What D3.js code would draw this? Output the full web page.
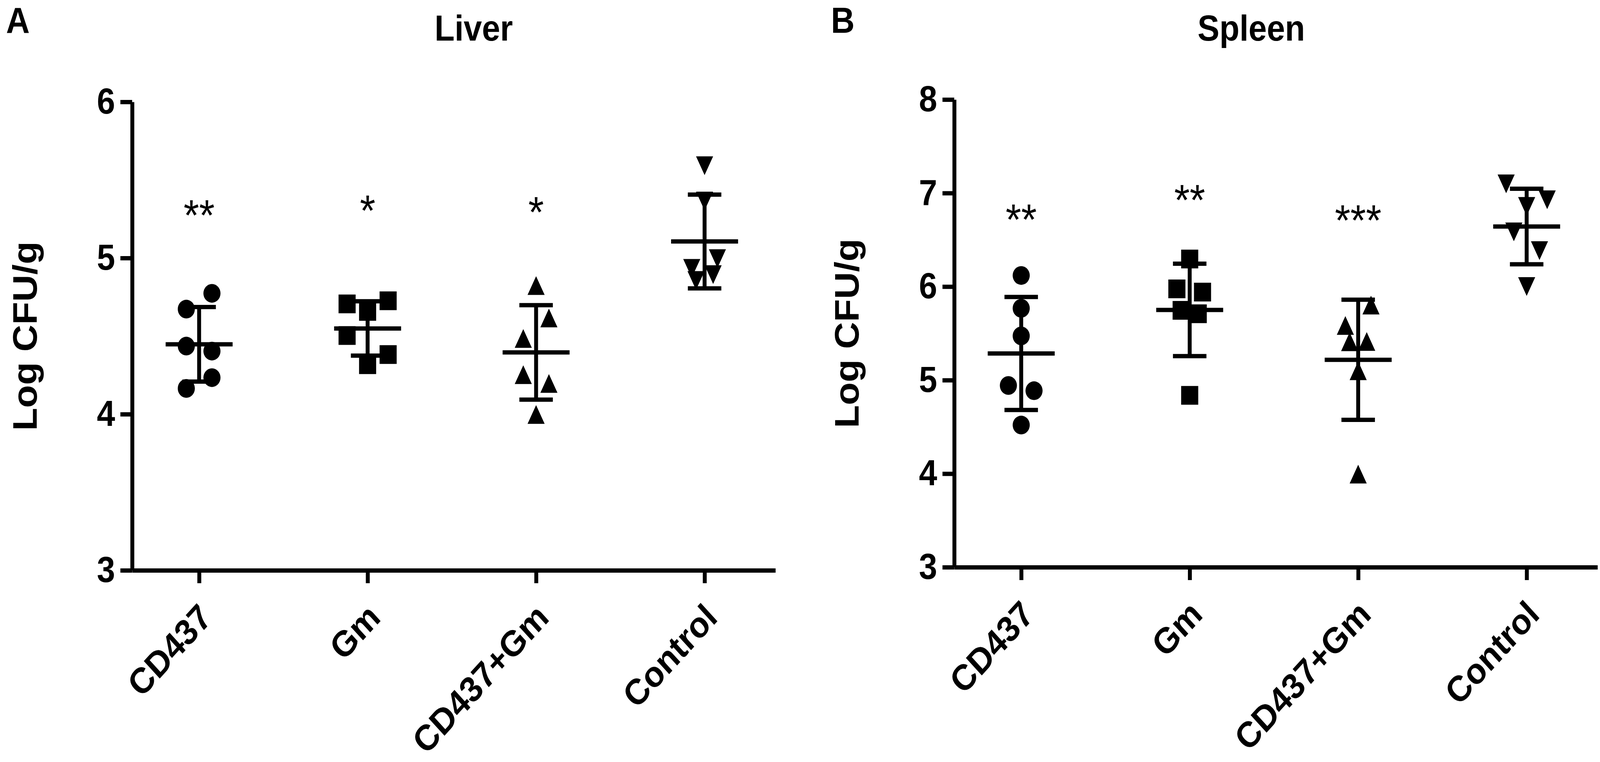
<!DOCTYPE html>
<html>
<head>
<meta charset="utf-8">
<script src="https://cdn.jsdelivr.net/npm/d3@7"></script>
<style>
  html, body { margin: 0; padding: 0; background: #fff; overflow: hidden; }
  svg { display: block; width: 100vw; height: 100vh; }
  svg text { font-family: 'Liberation Sans', Arial, sans-serif; font-weight: bold; fill: #000; }
</style>
</head>
<body>
<div id="chart-area"></div>
<script>
// groups and marker shapes
var groups = ['CD437', 'Gm', 'CD437+Gm', 'Control'];
var shapes = ['circle', 'square', 'triangle', 'triangleDown'];

// Log CFU/g per mouse
var liverCD437 = [4.673, 4.774, 4.436, 4.404, 4.165, 4.234];
var liverGm = [4.706, 4.726, 4.658, 4.504, 4.382, 4.317];
var liverCombo = [4.824, 4.485, 4.616, 4.253, 4.197, 3.998];
var liverControl = [5.591, 5.365, 4.934, 4.996, 4.856, 4.894];

var spleenCD437 = [6.119, 5.473, 5.768, 4.943, 4.887, 4.520];
var spleenGm = [6.295, 5.976, 5.941, 5.746, 5.710, 4.837];
var spleenCombo = [5.585, 5.803, 5.41, 5.413, 5.100, 3.995];
var spleenControl = [7.098, 6.928, 6.857, 6.585, 6.385, 6.001];

// axis ticks
var liverTicks = [3, 4, 5, 6];
var spleenTicks = [3, 4, 5, 6, 7, 8];

// significance marks and the level they sit at (data units)
var liverStars = ['**', '*', '*', ''];
var spleenStars = ['**', '**', '***', ''];
var liverStarLevels = [5.338, 5.367, 5.357, null];
var spleenStarLevels = [6.823, 7.029, 6.814, null];

var width = 4492;
var height = 1952;
var plotWidth = 1806;
var markerSize = 48;
var lineWidth = 11;
var fontSize = 92;
var starSize = 112;

// drawn in a 4492x1952 frame, stretched to fill the viewport
var svg = d3.select('#chart-area').append('svg')
    .attr('viewBox', '0 0 ' + width + ' ' + height)
    .attr('preserveAspectRatio', 'none');

var panels = [
    { letter: 'A', title: 'Liver', values: [liverCD437, liverGm, liverCombo, liverControl],
      ticks: liverTicks, stars: liverStars, starLevels: liverStarLevels,
      left: 371, top: 261, bottom: 1461, titleX: 1330, letterX: 17 },
    { letter: 'B', title: 'Spleen', values: [spleenCD437, spleenGm, spleenCombo, spleenControl],
      ticks: spleenTicks, stars: spleenStars, starLevels: spleenStarLevels,
      left: 2679, top: 255, bottom: 1453, titleX: 3513, letterX: 2333 }
];

// custom triangle symbols (bounding box centred)
var triUp = {
    draw: function (ctx, size) {
        var h = Math.sqrt(size) / 2;
        ctx.moveTo(0, -h); ctx.lineTo(h, h); ctx.lineTo(-h, h); ctx.closePath();
    }
};
var triDown = {
    draw: function (ctx, size) {
        var h = Math.sqrt(size) / 2;
        ctx.moveTo(-h, -h); ctx.lineTo(h, -h); ctx.lineTo(0, h); ctx.closePath();
    }
};
var symbolTypes = {
    circle: { type: d3.symbolCircle, size: Math.PI * markerSize * markerSize / 4 },
    square: { type: d3.symbolSquare, size: markerSize * markerSize },
    triangle: { type: triUp, size: markerSize * markerSize },
    triangleDown: { type: triDown, size: markerSize * markerSize }
};

// column scatter: points close in y are spread sideways, pairwise
function spread(values, y) {
    var d = markerSize;
    var order = d3.range(values.length).sort(function (a, b) { return values[b] - values[a]; });
    var clusters = [];
    order.forEach(function (i, k) {
        if (k === 0 || y(values[i]) - y(values[order[k - 1]]) > 1.2 * d) clusters.push([]);
        clusters[clusters.length - 1].push(i);
    });
    var patterns = { 1: [0], 2: [0.75], 3: [1.2, 0], 4: [0.75, 0.5] };
    var offsets = values.map(function () { return 0; });
    clusters.forEach(function (c) {
        var pat = patterns[c.length];
        if (!pat) {
            c.forEach(function (i, j) { offsets[i] = (j - (c.length - 1) / 2) * 0.6 * d; });
            return;
        }
        var j = 0;
        pat.forEach(function (w) {
            if (w === 0) { offsets[c[j]] = 0; j += 1; return; }
            var pair = [c[j], c[j + 1]].sort(d3.ascending);
            offsets[pair[0]] = -w * d;
            offsets[pair[1]] = w * d;
            j += 2;
        });
    });
    return offsets;
}

panels.forEach(drawPanel);

function drawPanel(p) {
    var g = svg.append('g');

    var x = d3.scalePoint()
        .domain(groups)
        .range([p.left, p.left + plotWidth])
        .padding(0.409)
        .align(0.486);

    var y = d3.scaleLinear()
        .domain(d3.extent(p.ticks))
        .range([p.bottom, p.top]);

    // Y axis
    var yAxisGroup = g.append('g')
        .attr('transform', 'translate(' + p.left + ',0)')
        .call(d3.axisLeft(y).tickValues(p.ticks).tickSize(33).tickSizeOuter(0)
            .tickPadding(15).tickFormat(d3.format('d')));
    yAxisGroup.selectAll('path, line').attr('stroke', '#000').attr('stroke-width', lineWidth);
    yAxisGroup.selectAll('text')
        .attr('style', 'font-size: ' + fontSize + 'px');

    // X axis
    var xAxisGroup = g.append('g')
        .attr('transform', 'translate(0,' + p.bottom + ')')
        .call(d3.axisBottom(x).tickSize(33).tickSizeOuter(0));
    xAxisGroup.selectAll('path, line').attr('stroke', '#000').attr('stroke-width', lineWidth);
    xAxisGroup.selectAll('text')
        .attr('x', 0)
        .attr('y', 0)
        .attr('dy', null)
        .attr('text-anchor', 'end')
        .attr('transform', 'translate(40,126) rotate(-45)')
        .attr('style', 'font-size: ' + fontSize + 'px');

    // Y label
    g.append('text')
        .attr('transform', 'translate(' + (p.left - 268) + ',' + ((p.top + p.bottom) / 2) + ') rotate(-90)')
        .attr('text-anchor', 'middle')
        .attr('style', 'font-size: 96px')
        .text('Log CFU/g');

    // title and panel letter
    g.append('text')
        .attr('x', p.titleX)
        .attr('y', 104)
        .attr('text-anchor', 'middle')
        .attr('style', 'font-size: ' + fontSize + 'px')
        .text(p.title);
    g.append('text')
        .attr('x', p.letterX)
        .attr('y', 84)
        .attr('style', 'font-size: ' + fontSize + 'px')
        .text(p.letter);

    groups.forEach(function (name, i) {
        var vals = p.values[i];
        var offsets = spread(vals, y);
        var sym = symbolTypes[shapes[i]];
        var cx = x(name);

        // points
        g.selectAll('.pt-' + i)
            .data(vals)
            .enter().append('path')
            .attr('class', 'pt-' + i)
            .attr('d', d3.symbol().type(sym.type).size(sym.size))
            .attr('transform', function (d, k) {
                return 'translate(' + (cx + offsets[k]) + ',' + y(d) + ')';
            })
            .attr('fill', '#000');

        // mean and SD
        var m = d3.mean(vals);
        var sd = d3.deviation(vals);
        var bars = [
            { x1: cx - 94, x2: cx + 94, y1: y(m), y2: y(m) },
            { x1: cx, x2: cx, y1: y(m + sd), y2: y(m - sd) },
            { x1: cx - 47, x2: cx + 47, y1: y(m + sd), y2: y(m + sd) },
            { x1: cx - 47, x2: cx + 47, y1: y(m - sd), y2: y(m - sd) }
        ];
        g.selectAll('.bar-' + i)
            .data(bars)
            .enter().append('line')
            .attr('class', 'bar-' + i)
            .attr('x1', function (d) { return d.x1; })
            .attr('x2', function (d) { return d.x2; })
            .attr('y1', function (d) { return d.y1; })
            .attr('y2', function (d) { return d.y2; })
            .attr('stroke', '#000')
            .attr('stroke-width', lineWidth);

        // significance
        if (p.stars[i]) {
            g.append('text')
                .attr('x', cx)
                .attr('y', y(p.starLevels[i]) + 0.57 * starSize)
                .attr('text-anchor', 'middle')
                .attr('style', 'font-size: ' + starSize + 'px; font-weight: normal')
                .text(p.stars[i]);
        }
    });
}
</script>
</body>
</html>
